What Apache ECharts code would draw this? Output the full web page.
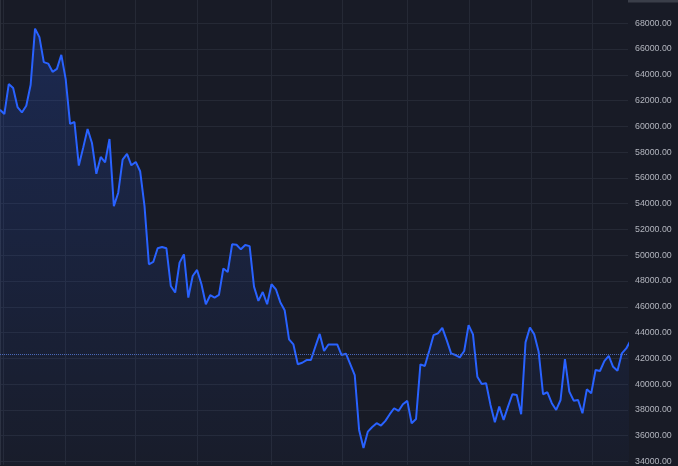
<!DOCTYPE html>
<html>
<head>
<meta charset="utf-8">
<style>
  html, body { margin: 0; padding: 0; background: #181b26; }
  #chart { width: 678px; height: 466px; }
</style>
<script src="https://cdn.jsdelivr.net/npm/echarts@6/dist/echarts.min.js"></script>
</head>
<body>
<div id="chart"></div>
<script>
// Price series (one point per bar)
const prices = [
  61290, 60960, 63280, 62970, 61500, 61080, 61600, 63230, 67580, 66920,
  64980, 64870, 64230, 64460, 65550, 63670, 60190, 60340, 56960, 58350,
  59800, 58710, 56320, 57630, 57210, 59020, 53810, 54850, 57420, 57860,
  56980, 57240, 56520, 53810, 49300, 49480, 50540, 50640, 50540, 47620,
  47110, 49430, 50070, 46720, 48390, 48860, 47750, 46200, 46900, 46720,
  46920, 48970, 48700, 50850, 50820, 50460, 50790, 50710, 47570, 46460,
  47150, 46200, 47750, 47360, 46360, 45740, 43470, 43080, 41540, 41660,
  41870, 41870, 42900, 43900, 42570, 43080, 43080, 43080, 42260, 42360,
  41540, 40710, 36450, 35040, 36320, 36680, 36970, 36790, 37150, 37670,
  38130, 37920, 38440, 38700, 36970, 37300, 41540, 41410, 42570, 43800,
  43940, 44370, 43420, 42390, 42260, 42080, 42570, 44580, 43860, 40580,
  40010, 40070, 38390, 37050, 38260, 37230, 38260, 39220, 39160, 37670,
  43240, 44400, 43860, 42510, 39220, 39370, 38520, 38000, 38770, 41950,
  39420, 38720, 38770, 37740, 39600, 39290, 41100, 41020, 41790, 42200,
  41350, 41040, 42390, 42770, 43400
];
// Vertical grid line positions (in bar-index units)
const timeGridLines = [0.75, 15.0, 30.9, 45.0, 61.9, 78.2, 93.0, 107.1, 121.2, 135.3];
// Price axis tick labels
const priceTicks = [34000, 36000, 38000, 40000, 42000, 44000, 46000, 48000, 50000,
                    52000, 54000, 56000, 58000, 60000, 62000, 64000, 66000, 68000];
// Visible price range of the pane
const priceMin = 33745;
const priceMax = 69803;
// Dotted reference price line
const referencePrice = 42310;

const seriesData = prices.map((v, i) => [i, v]);

const chart = echarts.init(document.getElementById('chart'), null, { renderer: 'canvas' });
chart.setOption({
  backgroundColor: '#181b26',
  animation: false,
  grid: { left: 0, right: 50, top: 0, bottom: 0, containLabel: false },
  xAxis: {
    type: 'value',
    min: 0,
    max: 143.4,
    axisLine: { show: false },
    axisTick: { show: false, customValues: timeGridLines },
    axisLabel: { show: false },
    splitLine: { show: true, lineStyle: { color: '#252935', width: 1 } }
  },
  yAxis: {
    type: 'value',
    position: 'right',
    min: priceMin,
    max: priceMax,
    axisLine: { show: true, lineStyle: { color: '#2c303b', width: 1 } },
    axisTick: { show: false, customValues: priceTicks },
    axisLabel: {
      customValues: priceTicks,
      color: '#b2b5be',
      fontSize: 8.8,
      fontFamily: 'Liberation Sans, Arial, sans-serif',
      margin: 7,
      formatter: v => Number(v).toFixed(2)
    },
    splitLine: { show: true, lineStyle: { color: '#252935', width: 1 } }
  },
  graphic: [{
    type: 'rect',
    right: 0, top: 0,
    shape: { width: 50, height: 2.5 },
    style: { fill: '#3a3e49' }
  }],
  series: [{
    type: 'line',
    data: seriesData,
    showSymbol: false,
    symbol: 'none',
    clip: true,
    lineStyle: { color: '#2962ff', width: 2 },
    itemStyle: { color: '#2962ff' },
    areaStyle: {
      color: new echarts.graphic.LinearGradient(0, 0, 0, 1, [
        { offset: 0, color: 'rgba(41,98,255,0.28)' },
        { offset: 1, color: 'rgba(41,98,255,0.03)' }
      ])
    },
    markLine: {
      silent: true,
      symbol: 'none',
      label: { show: false },
      lineStyle: { color: '#4a68b8', type: 'dotted', width: 1 },
      data: [{ yAxis: referencePrice }]
    }
  }]
});
</script>
</body>
</html>
